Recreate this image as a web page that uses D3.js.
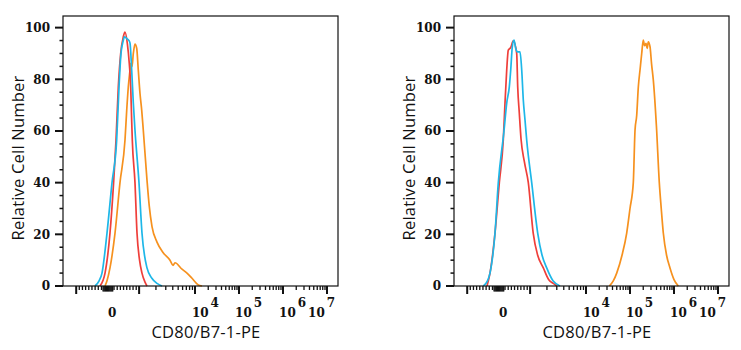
<!DOCTYPE html>
<html>
<head>
<meta charset="utf-8">
<script src="https://cdn.jsdelivr.net/npm/d3@7/dist/d3.min.js"></script>
<style>
body { margin: 0; background: #fff; }
.tick-lbl { font-family: "DejaVu Serif", serif; font-weight: bold; font-size: 12px; fill: #111; }
.ax-title { font-family: "Open Sans", sans-serif; font-size: 16.5px; letter-spacing: 0.2px; fill: #111; }
</style>
</head>
<body>
<script>
var width = 741,
    height = 350;

// x values are in display decades of the biexponential axis (0 sits at 2, 10^4 at 4 ...)
// y values are % of max ("Relative Cell Number")
var red1 = [[1.841,0],[1.955,5],[2.068,20.5],[2.15,40],[2.205,56.5],[2.257,77],[2.311,90],[2.37,96.4],[2.409,98.3],
    [2.461,94],[2.507,86],[2.539,77],[2.561,64],[2.575,56.5],[2.636,40],[2.682,20.5],[2.74,10],[2.795,5],[2.864,1.5],[2.909,0]];
var cyan1 = [[1.727,0],[1.82,2],[1.886,5],[2.0,20.5],[2.114,40],[2.22,56.5],[2.273,77],[2.318,90],[2.37,95],[2.393,96.4],
    [2.448,95.8],[2.5,95],[2.523,94],[2.561,83.6],[2.598,70.8],[2.636,60.3],[2.727,40],[2.795,20.5],[2.909,7],[3.02,3],[3.136,1],[3.25,0]];
var orange1 = [[1.955,0],[2.0,2],[2.068,7],[2.182,20.5],[2.295,40],[2.409,56.5],[2.448,68],[2.484,77],[2.523,83.6],[2.539,86.2],
    [2.568,84.9],[2.598,90],[2.636,93.6],[2.675,92],[2.711,83.6],[2.75,74.5],[2.789,68],[2.825,60.3],[2.909,41],[2.96,31],
    [3.023,23],[3.136,17],[3.273,13],[3.432,10],[3.5,8],[3.545,9],[3.705,6.5],[3.818,5],[3.932,3],[4.068,0.5],[4.159,0]];

var red2 = [[1.75,0],[1.818,5],[1.932,20.5],[2.03,40],[2.12,56.5],[2.159,70.8],[2.198,83.6],[2.234,91.3],[2.289,92.3],
    [2.348,94.9],[2.425,90],[2.448,77],[2.484,67],[2.523,57],[2.6,48],[2.689,40],[2.8,20.5],[2.9,12],[3.03,7],[3.15,2.5],[3.257,1],[3.334,0]];
var cyan2 = [[1.666,0],[1.76,2],[1.818,5],[1.932,20.5],[2.007,40],[2.136,60],[2.198,70.8],[2.257,77.1],[2.289,83.6],[2.325,92.6],
    [2.364,95.2],[2.402,92],[2.439,90.6],[2.5,90.6],[2.539,83.6],[2.575,72],[2.614,64.2],[2.652,56.5],[2.766,40],[2.902,20.5],
    [3.0,12],[3.107,7],[3.25,2],[3.409,0]];
var orange2 = [[4.53,0],[4.62,2],[4.698,5],[4.82,12],[4.925,20.5],[5.0,30],[5.075,40],[5.114,60.3],[5.152,66],[5.189,77],
    [5.23,84],[5.266,90],[5.302,95.2],[5.33,93],[5.364,93.9],[5.39,92],[5.416,94.5],[5.455,92.6],[5.49,86],[5.53,79.7],
    [5.6,62],[5.666,40],[5.71,30],[5.757,20.5],[5.83,12],[5.909,7],[6.0,2.5],[6.098,0]];

var yTicks = [0, 20, 40, 60, 80, 100];
var xMajorTicks = [1.3, 2.73, 4, 5, 6, 7];
var xLabelAt = [2.02, 3.93, 4.91, 5.91, 6.57];
var xLabelBase = ["0", "10", "10", "10", "10"];
var xLabelExp = ["", "4", "5", "6", "7"];
var xTitle = "CD80/B7-1-PE",
    yTitle = "Relative Cell Number";

var colors = { red: "#ef3f3a", cyan: "#1db7e8", orange: "#f6911e" };
var panels = [
    { dx: 0, series: [[orange1, colors.orange], [red1, colors.red], [cyan1, colors.cyan]] },
    { dx: 391, series: [[orange2, colors.orange], [red2, colors.red], [cyan2, colors.cyan]] }
];

var box = { left: 63, right: 338, top: 16, bottom: 286 };

var x = d3.scaleLinear().domain([1.0, 7.25]).range([box.left, box.right]);
var y = d3.scaleLinear().domain([0, 104.5]).range([box.bottom, box.top]);

// minor ticks: linear part around zero, then log decades between the majors
var xMinor = d3.range(1.37, 1.9, 0.072).concat(d3.range(2.16, 2.7, 0.072));
for (var i = 1; i < xMajorTicks.length; i++) {
    var a = xMajorTicks[i - 1], b = xMajorTicks[i];
    if (a < 2.5) continue;
    for (var m = 2; m < 10; m++) xMinor.push(a + Math.log10(m) * (b - a));
}
var xZeroCluster = d3.range(1.91, 2.14, 0.02);
var yMinor = d3.range(5, 100, 5).filter(function (v) { return v % 20 !== 0; });

var line = d3.line()
    .x(function (d) { return x(d[0]); })
    .y(function (d) { return y(d[1]); })
    .curve(d3.curveMonotoneX);

var svg = d3.select("body").append("svg")
    .attr("width", width)
    .attr("height", height);

panels.forEach(function (p) {
    var g = svg.append("g").attr("transform", "translate(" + p.dx + ",0)");

    // curves
    p.series.forEach(function (s) {
        g.append("path")
            .attr("d", line(s[0]))
            .attr("fill", "none")
            .attr("stroke", s[1])
            .attr("stroke-width", 1.7)
            .attr("stroke-linejoin", "round");
    });

    // frame
    g.append("rect")
        .attr("x", box.left).attr("y", box.top)
        .attr("width", box.right - box.left).attr("height", box.bottom - box.top)
        .attr("fill", "none").attr("stroke", "#111").attr("stroke-width", 1.2);

    // y ticks
    g.selectAll(".ymaj").data(yTicks).enter().append("line")
        .attr("x1", box.left - 8).attr("x2", box.left)
        .attr("y1", function (d) { return y(d); }).attr("y2", function (d) { return y(d); })
        .attr("stroke", "#111").attr("stroke-width", 2);
    g.selectAll(".ymin").data(yMinor).enter().append("line")
        .attr("x1", box.left - 3.5).attr("x2", box.left)
        .attr("y1", function (d) { return y(d); }).attr("y2", function (d) { return y(d); })
        .attr("stroke", "#111").attr("stroke-width", 1.5);
    g.selectAll(".ylbl").data(yTicks).enter().append("text")
        .attr("class", "tick-lbl")
        .attr("x", box.left - 13)
        .attr("y", function (d) { return y(d); })
        .attr("dy", "0.36em")
        .attr("text-anchor", "end")
        .text(function (d) { return d; });

    // x ticks
    g.selectAll(".xmaj").data(xMajorTicks).enter().append("line")
        .attr("x1", function (d) { return x(d); }).attr("x2", function (d) { return x(d); })
        .attr("y1", box.bottom).attr("y2", box.bottom + 8)
        .attr("stroke", "#111").attr("stroke-width", 2);
    g.selectAll(".xmin").data(xMinor).enter().append("line")
        .attr("x1", function (d) { return x(d); }).attr("x2", function (d) { return x(d); })
        .attr("y1", box.bottom).attr("y2", box.bottom + 4)
        .attr("stroke", "#111").attr("stroke-width", 1.3);
    g.selectAll(".xzero").data(xZeroCluster).enter().append("line")
        .attr("x1", function (d) { return x(d); }).attr("x2", function (d) { return x(d); })
        .attr("y1", box.bottom).attr("y2", box.bottom + 5.5)
        .attr("stroke", "#111").attr("stroke-width", 1.3);

    var lbl = g.selectAll(".xlbl").data(xLabelAt).enter().append("text")
        .attr("class", "tick-lbl")
        .attr("x", function (d) { return x(d); })
        .attr("y", 317);
    lbl.append("tspan").text(function (d, i) { return xLabelBase[i]; });
    lbl.append("tspan")
        .attr("dx", 2).attr("dy", -10)
        .text(function (d, i) { return xLabelExp[i]; });

    // titles
    g.append("text")
        .attr("class", "ax-title")
        .attr("x", 206).attr("y", 338)
        .attr("text-anchor", "middle")
        .text(xTitle);
    g.append("text")
        .attr("class", "ax-title")
        .attr("transform", "translate(24,158) rotate(-90)")
        .attr("text-anchor", "middle")
        .text(yTitle);
});
</script>
</body>
</html>
